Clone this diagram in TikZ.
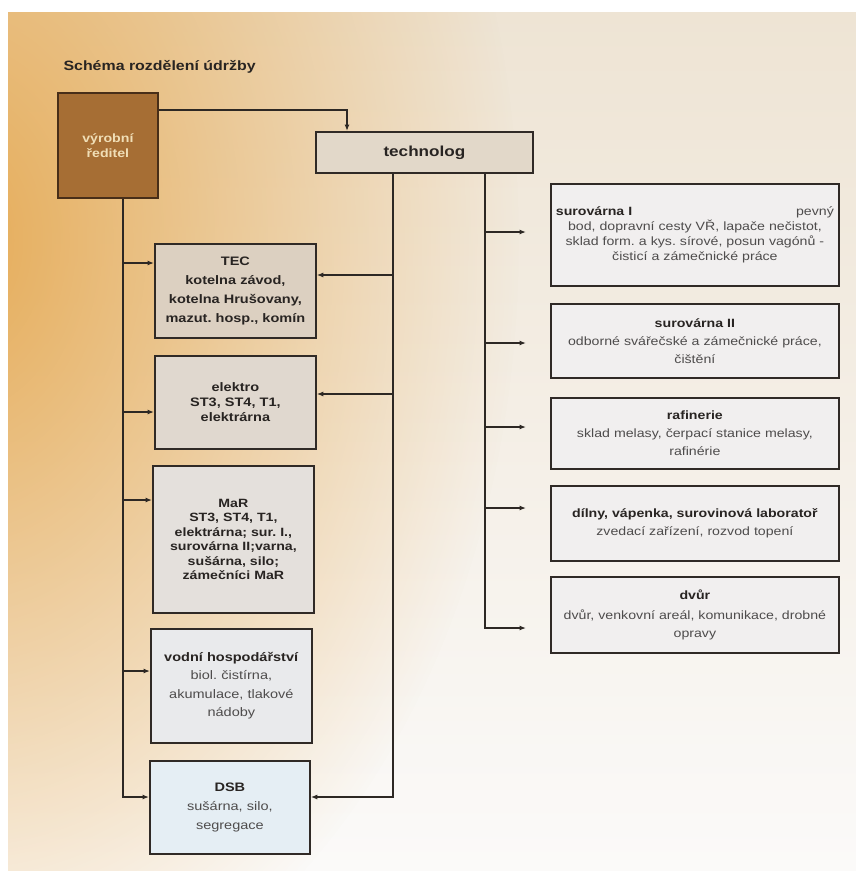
\documentclass[tikz,border=0pt]{standalone}
\usepackage{fontspec}
\setmainfont{Liberation Sans}[FakeStretch=1.18]
\usepackage{xcolor}
\usetikzlibrary{positioning, calc, fadings, arrows.meta}

\definecolor{linedark}{RGB}{45,40,36}
\definecolor{boxborder}{RGB}{48,42,38}
\definecolor{textdark}{RGB}{40,36,34}
\definecolor{textgray}{RGB}{78,76,76}
\definecolor{bgtop}{RGB}{238,228,212}
\definecolor{bgmid}{RGB}{246,243,238}
\definecolor{bgbottom}{RGB}{251,250,249}
\definecolor{bgorange}{RGB}{230,172,88}
\definecolor{reditelfill}{RGB}{166,110,52}
\definecolor{reditelborder}{RGB}{72,46,24}
\definecolor{rediteltext}{RGB}{240,222,182}
\definecolor{techfill}{RGB}{226,216,201}
\definecolor{tecfill}{RGB}{220,208,193}
\definecolor{elektrofill}{RGB}{224,216,207}
\definecolor{marfill}{RGB}{228,224,220}
\definecolor{vodnifill}{RGB}{233,234,236}
\definecolor{dsbfill}{RGB}{229,238,244}
\definecolor{rightfill}{RGB}{241,239,239}

\newcommand{\txtsize}[2]{\fontsize{#1pt}{#2pt}\selectfont}
\newcommand{\boxhead}[1]{\textcolor{textdark}{\textbf{#1}}}
\tikzfading[name=warmfade, inner color=transparent!0, outer color=transparent!100]
\frenchspacing

\begin{document}
\begin{tikzpicture}[x=1pt, y=-1pt, >={Latex[length=6.5pt, width=5pt]},
    box/.style={rectangle, draw=boxborder, line width=1.8pt, anchor=north west, align=center, inner sep=4pt, text=textdark},
    leftbox/.style={box, minimum width=161pt, text width=151pt, font=\bfseries\txtsize{12.3}{15}},
    rightbox/.style={box, fill=rightfill, minimum width=288pt, text width=278pt, text=textgray, font=\txtsize{12}{18}},
    link/.style={draw=linedark, line width=1.2pt}
  ]

  % background of the photographed page
  \useasboundingbox (0,0) rectangle (856,871);
  \fill[white] (0,0) rectangle (856,871);
  \shade[top color=bgtop, middle color=bgmid, bottom color=bgbottom] (8,12) rectangle (856,871);
  \begin{scope}
    \clip (8,12) rectangle (856,871);
    \fill[bgorange, path fading=warmfade] (-40,240) ellipse (560 and 800);
  \end{scope}

  \node[anchor=west, font=\bfseries\txtsize{13.5}{16}, text=textdark] (title) at (60,67) {Schéma rozdělení údržby};

  \node[box, fill=reditelfill, draw=reditelborder, minimum width=100pt, minimum height=105pt, text width=90pt, text=rediteltext, font=\bfseries\txtsize{12}{15}] (reditel) at (57,92) {výrobní\\ředitel};
  \node[box, fill=techfill, minimum width=217pt, minimum height=41pt, font=\bfseries\txtsize{14.5}{17}] (technolog) at (315,131) {technolog};

  % left column
  \node[leftbox, fill=tecfill, minimum height=94pt, font=\bfseries\txtsize{12.3}{19}] (tec) at (154,243) {TEC\\kotelna závod,\\kotelna Hrušovany,\\mazut. hosp., komín};
  \node[leftbox, fill=elektrofill, minimum height=93pt] (elektro) at (154,355) {elektro\\ST3, ST4, T1,\\elektrárna};
  \node[leftbox, fill=marfill, minimum height=147pt, font=\bfseries\txtsize{12}{14.5}] (mar) at (152,465) {MaR\\ST3, ST4, T1,\\elektrárna; sur. I.,\\surovárna II;varna,\\sušárna, silo;\\zámečníci MaR};
  \node[leftbox, fill=vodnifill, minimum height=114pt, text=textgray, font=\txtsize{12.3}{18.5}] (vodni) at (150,628) {\boxhead{vodní hospodářství}\\biol. čistírna,\\akumulace, tlakové\\nádoby};
  \node[leftbox, fill=dsbfill, minimum width=160pt, minimum height=93pt, text=textgray, font=\txtsize{12.3}{19}] (dsb) at (149,760) {\boxhead{DSB}\\sušárna, silo,\\segregace};

  % right column
  \node[rightbox, minimum height=102pt, font=\txtsize{12}{15}] (sur1) at (550,183) {\boxhead{surovárna I}\hspace{0pt plus 1filll}pevný\\bod, dopravní cesty VŘ, lapače nečistot,\\sklad form. a kys. sírové, posun vagónů -\\čisticí a zámečnické práce};
  \node[rightbox, minimum height=74pt] (sur2) at (550,303) {\boxhead{surovárna II}\\odborné svářečské a zámečnické práce,\\čištění};
  \node[rightbox, minimum height=71pt] (raf) at (550,397) {\boxhead{rafinerie}\\sklad melasy, čerpací stanice melasy,\\rafinérie};
  \node[rightbox, minimum height=75pt] (dilny) at (550,485) {\boxhead{dílny, vápenka, surovinová laboratoř}\\zvedací zařízení, rozvod topení};
  \node[rightbox, minimum height=76pt] (dvur) at (550,576) {\boxhead{dvůr}\\[2pt]dvůr, venkovní areál, komunikace, drobné\\opravy};

  \coordinate (trunkL) at ([xshift=15pt]reditel.south);
  \coordinate (trunkM) at ([xshift=78pt]technolog.south west);
  \coordinate (trunkR) at ([xshift=170pt]technolog.south west);

  \draw[link, ->] ([yshift=-18pt]reditel.north east) -| ([xshift=32pt]technolog.north west);

  % from the production director
  \draw[link, ->] (trunkL) |- ([yshift=-37pt]dsb.north west);
  \draw[link, ->] ([yshift=-20pt]tec.north west -| trunkL) -- ([yshift=-20pt]tec.north west);
  \draw[link, ->] ([yshift=-57pt]elektro.north west -| trunkL) -- ([yshift=-57pt]elektro.north west);
  \draw[link, ->] ([yshift=-35pt]mar.north west -| trunkL) -- ([yshift=-35pt]mar.north west);
  \draw[link, ->] ([yshift=-43pt]vodni.north west -| trunkL) -- ([yshift=-43pt]vodni.north west);

  % from the technologist, left
  \draw[link, ->] (trunkM) |- ([yshift=-37pt]dsb.north east);
  \draw[link, ->] ([yshift=-32pt]tec.north east -| trunkM) -- ([yshift=-32pt]tec.north east);
  \draw[link, ->] ([yshift=-39pt]elektro.north east -| trunkM) -- ([yshift=-39pt]elektro.north east);

  % from the technologist, right
  \draw[link, ->] (trunkR) |- ([xshift=-24pt, yshift=-52pt]dvur.north west);
  \draw[link, ->] ([yshift=-49pt]sur1.north west -| trunkR) -- ([xshift=-24pt, yshift=-49pt]sur1.north west);
  \draw[link, ->] ([yshift=-40pt]sur2.north west -| trunkR) -- ([xshift=-24pt, yshift=-40pt]sur2.north west);
  \draw[link, ->] ([yshift=-30pt]raf.north west -| trunkR) -- ([xshift=-24pt, yshift=-30pt]raf.north west);
  \draw[link, ->] ([yshift=-23pt]dilny.north west -| trunkR) -- ([xshift=-24pt, yshift=-23pt]dilny.north west);

\end{tikzpicture}
\end{document}
